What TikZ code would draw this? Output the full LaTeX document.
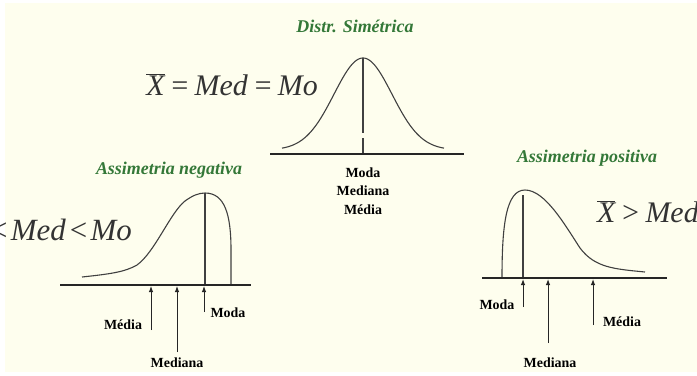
\documentclass[tikz,border=0pt]{standalone}
\usepackage{fontspec}
\setmainfont{Liberation Serif}[BoldFont={Liberation Serif Bold}, ItalicFont={Liberation Serif Italic}, BoldItalicFont={Liberation Serif Bold Italic}]
\usetikzlibrary{arrows.meta}
\definecolor{creme}{RGB}{254,254,238}
\definecolor{verdetit}{RGB}{52,120,56}

\begin{document}
\begin{tikzpicture}[x=1bp, y=-1bp,
	titulo/.style = {text=verdetit, font=\fontsize{18}{20}\selectfont\bfseries\itshape, inner sep=0},
	formula/.style = {text=black!80, font=\fontsize{30}{34}\selectfont\itshape, inner sep=0},
	rotulo/.style = {font=\fontsize{14}{18.5}\selectfont\bfseries, inner sep=0},
	curva/.style = {line width=1.1bp, black!75},
	eixo/.style = {line width=1.5bp, black!85},
	seta/.style = {line width=1bp, black!85, -{Latex[length=6bp,width=4.5bp]}}]
	\useasboundingbox (0,0) rectangle (697,375);
	\clip (0,0) rectangle (697,375);
	\fill [creme] (5,3) rectangle (697,372);

	\node [titulo] (titSim) at (355,26) {Distr. Simétrica};
	\node [formula, anchor=base east] (formSim) at (318,95) {$\overline{\mbox{X}}$\,=\,Med\,=\,Mo};
	\draw [curva] plot [samples = 120, domain = -81:81, smooth] ({363+\x},{150-92*exp(-0.5*(\x/29)^2)});
	\coordinate (simPico) at (363,58);
	\coordinate (simBase) at (363,154);
	\draw [curva] (simPico) -- ++(0,75) ++(0,5) -- (simBase);
	\draw [eixo] (270,154) -- (464,154);
	\node [rotulo, align=center] (rotSim) at (363,191) {Moda\\Mediana\\Média};

	\node [titulo] (titNeg) at (169,170) {Assimetria negativa};
	\node [formula, font=\fontsize{31}{35}\selectfont\itshape, anchor=base east] (formNeg) at (132,240) {$\overline{\mbox{X}}$\kern2pt<\kern2pt Med\kern2pt<\kern2pt Mo};
	\draw [curva] (82,277) .. controls (110,274) and (125,272) .. (137,265) .. controls (155,252) and (170,213) .. (185,201) .. controls (192,196) and (198,193) .. (205,193) .. controls (225,193) and (231,215) .. (231,250) -- (231,285);
	\coordinate (negPico) at (205,193);
	\draw [curva] (negPico) -- (205,285);
	\draw [eixo] (60,285) -- (251,285);
	\node [rotulo] (negMediaRot) at (123,325) {Média};
	\node [rotulo] (negMedianaRot) at (177,363) {Mediana};
	\node [rotulo] (negModaRot) at (228,313) {Moda};

	\node [titulo] (titPos) at (587,158) {Assimetria positiva};
	\node [formula, anchor=base west] (formPos) at (597,222) {$\overline{\mbox{X}}$\,>\,Med\,>\,Mo};
	\draw [curva] (502,278) .. controls (502,225) and (506,190) .. (525,190) .. controls (545,190) and (565,225) .. (580,248) .. controls (595,268) and (615,269) .. (645,272);
	\coordinate (posPico) at (523,195);
	\draw [curva] (posPico) -- (523,278);
	\draw [eixo] (482,278) -- (667,278);
	\node [rotulo] (posModaRot) at (497,305) {Moda};
	\node [rotulo] (posMedianaRot) at (550,363) {Mediana};
	\node [rotulo] (posMediaRot) at (622,322) {Média};

	\foreach \nome/\px/\pa/\pb in {negMedia/151/330/286, negMediana/177/352/286, negModa/204/312/286, posModa/523/307/279, posMediana/548/343/279, posMedia/593/325/279} {
		\coordinate (\nome Pe) at (\px,\pa);
		\coordinate (\nome Topo) at (\px,\pb);
		\draw [seta] (\nome Pe) -- (\nome Topo);
	}
\end{tikzpicture}
\end{document}
